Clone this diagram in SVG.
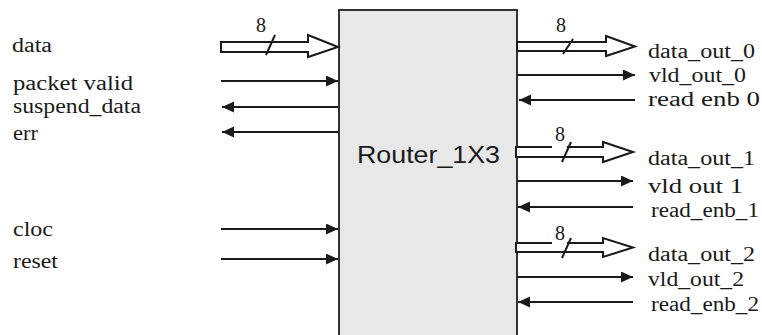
<svg xmlns="http://www.w3.org/2000/svg" width="762" height="335" viewBox="0 0 762 335">
<style>
.lbl{font-family:"Liberation Serif","Times New Roman",serif;font-size:20px;fill:#1a1a1a}
.num{font-family:"Liberation Serif","Times New Roman",serif;font-size:20px;fill:#1a1a1a;text-anchor:middle}
.title{font-family:"Liberation Sans",Arial,sans-serif;font-size:23px;fill:#1a1a1a}
.wire{stroke:#1a1a1a;stroke-width:2.2;fill:none;marker-end:url(#ah)}
.bus{stroke:#1a1a1a;stroke-width:2;fill:#fff;stroke-linejoin:miter}
.slash{stroke:#1a1a1a;stroke-width:2}
</style>
<defs>
<marker id="ah" markerUnits="userSpaceOnUse" markerWidth="13" markerHeight="12" refX="12" refY="5.5" orient="auto">
<path d="M0,0 L12,5.5 L0,11 z" fill="#1a1a1a"/>
</marker>
</defs>
<rect width="762" height="335" fill="#fff"/>
<g id="router">
<rect x="339" y="10" width="178" height="340" fill="#e8e8e8" stroke="#333" stroke-width="2"/>
<text class="title" x="357" y="163" textLength="143" lengthAdjust="spacingAndGlyphs">Router_1X3</text>
</g>
<g id="connectors">
<path class="bus" d="M221,42 H308 V35 L338,47 L308,57 V52 H221 Z"/>
<line class="slash" x1="266" y1="55" x2="275" y2="35"/>
<line class="wire" x1="221" y1="81" x2="338" y2="81"/>
<line class="wire" x1="338" y1="107" x2="222" y2="107"/>
<line class="wire" x1="338" y1="132" x2="222" y2="132"/>
<line class="wire" x1="221" y1="229" x2="338" y2="229"/>
<line class="wire" x1="221" y1="259" x2="338" y2="259"/>
<path class="bus" d="M517,42 H606 V36 L635,46.5 L606,56 V51 H517 Z"/>
<line class="slash" x1="563" y1="54" x2="573" y2="39"/>
<line class="wire" x1="517" y1="75" x2="635" y2="75"/>
<line class="wire" x1="635" y1="100" x2="519" y2="100"/>
<path class="bus" d="M516,147 H603 V142 L633,152 L603,162 V157 H516 Z"/>
<rect x="552" y="127" width="15" height="21" fill="#fff"/>
<line class="slash" x1="562" y1="162" x2="571" y2="142"/>
<line class="wire" x1="517" y1="181" x2="633" y2="181"/>
<line class="wire" x1="633" y1="207" x2="518" y2="207"/>
<path class="bus" d="M516,243 H603 V238 L633,247.5 L603,257 V252 H516 Z"/>
<rect x="552" y="226" width="15" height="18" fill="#fff"/>
<line class="slash" x1="562" y1="258" x2="571" y2="238"/>
<line class="wire" x1="517" y1="277" x2="633" y2="277"/>
<line class="wire" x1="633" y1="302" x2="518" y2="302"/>
</g>
<g id="bus-widths">
<text class="num" x="261" y="32">8</text>
<text class="num" x="561" y="32">8</text>
<text class="num" x="560" y="141">8</text>
<text class="num" x="560" y="240">8</text>
</g>
<g id="inputs">
<text class="lbl" x="12" y="52" textLength="40" lengthAdjust="spacingAndGlyphs">data</text>
<text class="lbl" x="13" y="90" textLength="120" lengthAdjust="spacingAndGlyphs">packet valid</text>
<text class="lbl" x="13" y="113" textLength="128" lengthAdjust="spacingAndGlyphs">suspend_data</text>
<text class="lbl" x="13" y="140" textLength="25" lengthAdjust="spacingAndGlyphs">err</text>
<text class="lbl" x="13" y="236" textLength="40" lengthAdjust="spacingAndGlyphs">cloc</text>
<text class="lbl" x="13" y="268" textLength="45" lengthAdjust="spacingAndGlyphs">reset</text>
</g>
<g id="outputs">
<text class="lbl" x="648" y="58" textLength="107" lengthAdjust="spacingAndGlyphs">data_out_0</text>
<text class="lbl" x="649" y="82" textLength="97" lengthAdjust="spacingAndGlyphs">vld_out_0</text>
<text class="lbl" x="648" y="106" textLength="112" lengthAdjust="spacingAndGlyphs">read enb 0</text>
<text class="lbl" x="648" y="165" textLength="107" lengthAdjust="spacingAndGlyphs">data_out_1</text>
<text class="lbl" x="648" y="193" textLength="95" lengthAdjust="spacingAndGlyphs">vld out 1</text>
<text class="lbl" x="651" y="217" textLength="108" lengthAdjust="spacingAndGlyphs">read_enb_1</text>
<text class="lbl" x="648" y="261" textLength="107" lengthAdjust="spacingAndGlyphs">data_out_2</text>
<text class="lbl" x="648" y="286" textLength="96" lengthAdjust="spacingAndGlyphs">vld_out_2</text>
<text class="lbl" x="651" y="311" textLength="108" lengthAdjust="spacingAndGlyphs">read_enb_2</text>
</g>
</svg>
